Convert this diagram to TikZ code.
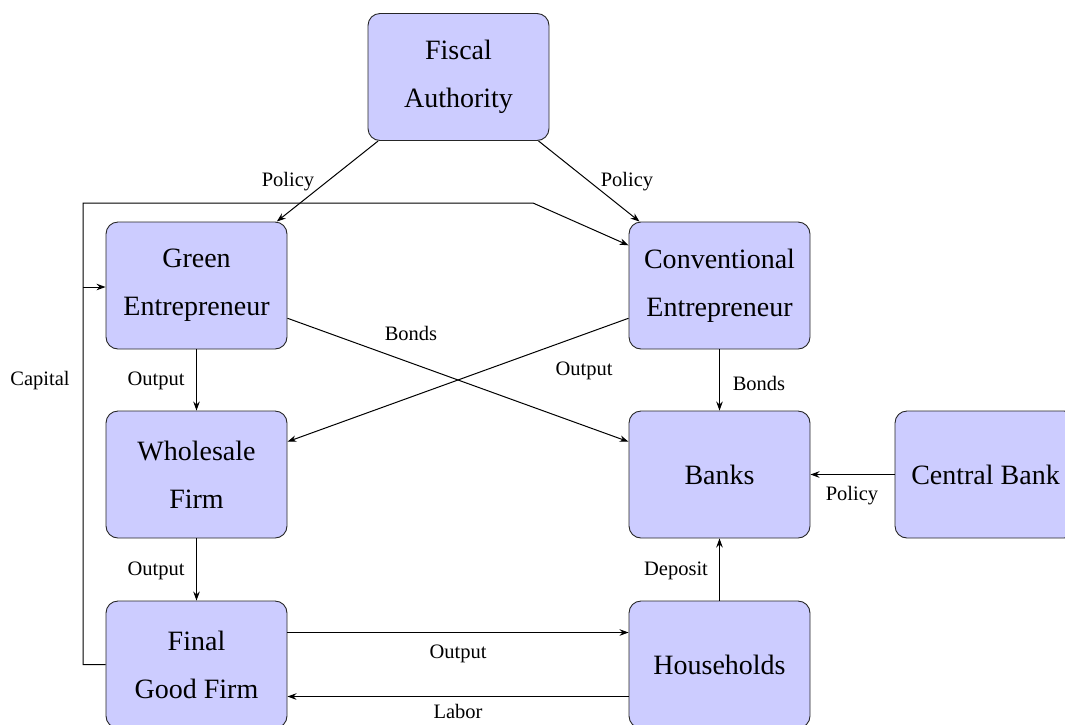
\documentclass[tikz,border=0pt]{standalone}
\usepackage{fontspec}
\setmainfont{Liberation Serif}
\usetikzlibrary{arrows.meta}
\begin{document}
\begin{tikzpicture}[x=1pt,y=-1pt,
 box/.style={draw=black!85, fill=blue!20, rounded corners=12pt, minimum width=181pt, minimum height=127pt, align=center, font=\fontsize{28}{48}\selectfont, inner sep=4pt, line width=0.9pt},
 lbl/.style={font=\fontsize{20.5}{24}\selectfont, inner sep=0pt},
 arr/.style={-{Stealth[length=9pt,width=6.5pt]}, line width=1pt}]
\useasboundingbox (0,0) rectangle (1065,724);
\node[box] (fa) at (458.5,77) {Fiscal\\Authority};
\node[box] (ge) at (196.5,285.5) {Green\\Entrepreneur};
\node[box] (ce) at (719.5,285.5) {Conventional\\Entrepreneur};
\node[box] (wf) at (196.5,474.5) {Wholesale\\Firm};
\node[box] (bk) at (719.5,474.5) {Banks};
\node[box] (cb) at (985.5,474.5) {Central Bank};
\node[box] (fg) at (196.5,664.5) {Final\\Good Firm};
\node[box] (hh) at (719.5,664.5) {Households};
% connectors
\draw[arr] (fa) -- (ge);
\draw[arr] (fa) -- (ce);
\draw[arr] (ge) -- (wf);
\draw[arr] (wf) -- (fg);
\draw[arr] (ce) -- (bk);
\draw[arr] (ge) -- (bk);
\draw[arr] (ce) -- (wf);
\draw[arr] (cb) -- (bk);
\draw[arr] (hh) -- (bk);
\draw[arr] ([yshift=32pt]fg.east) -- ([yshift=32pt]hh.west);
\draw[arr] ([yshift=-32pt]hh.west) -- ([yshift=-32pt]fg.east);
\coordinate (kb) at (83,664.5);
\coordinate (kt) at (83,203);
\coordinate (kr) at (533,203);
\coordinate (kg) at (83,287);
\draw[arr] (fg.west) -- (kb) -- (kt) -- (kr) -- (ce);
\draw[arr] (kg) -- (ge.west |- kg);
% labels
\node[lbl] (l1) at (288,182) {Policy};
\node[lbl] (l2) at (627,182) {Policy};
\node[lbl] (l3) at (40,381) {Capital};
\node[lbl] (l4) at (411,333) {Bonds};
\node[lbl] (l5) at (584,371) {Output};
\node[lbl] (l6) at (156,381) {Output};
\node[lbl] (l7) at (759,383) {Bonds};
\node[lbl] (l8) at (156,571) {Output};
\node[lbl] (l9) at (676,571) {Deposit};
\node[lbl] (l10) at (852,496) {Policy};
\node[lbl] (l11) at (458,654) {Output};
\node[lbl] (l12) at (458,711) {Labor};
\end{tikzpicture}
\end{document}
